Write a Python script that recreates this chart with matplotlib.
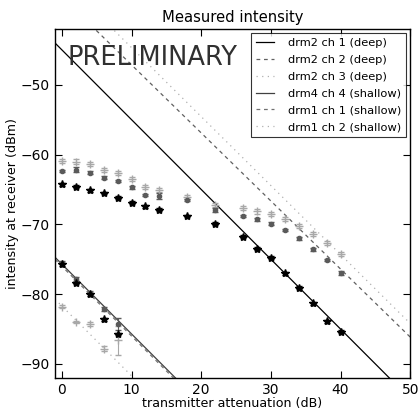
import numpy as np
import matplotlib
matplotlib.use("Agg")
import matplotlib.pyplot as plt

# ---- data ----
x_deep = [0, 2, 4, 6, 8, 10, 12, 14, 18, 22, 26, 28, 30, 32, 34, 36, 38, 40]
drm2_ch1 = [-64.25, -64.6, -65.1, -65.5, -66.2, -66.9, -67.4, -67.9, -68.8, -69.9,
            -71.75, -73.5, -74.8, -77.0, -79.1, -81.3, -83.9, -85.4]
drm2_ch2 = [-62.35, -62.2, -62.6, -63.3, -63.8, -64.7, -65.8, -65.9, -66.5, -67.9,
            -68.8, -69.3, -69.9, -70.8, -72.0, -73.6, -75.1, -77.0]
drm2_ch3 = [-60.9, -61.0, -61.4, -62.2, -62.7, -63.5, -64.6, -65.1, -66.05, -67.2,
            -67.7, -68.15, -68.5, -69.2, -70.2, -71.4, -72.7, -74.3]
drm2_ch1_err = [0.2] * 18
drm2_ch2_err = [0.2, 0.35, 0.2, 0.2, 0.2, 0.2, 0.2, 0.45, 0.2, 0.3,
                0.2, 0.2, 0.2, 0.2, 0.2, 0.2, 0.2, 0.3]
drm2_ch3_err = [0.3] * 18

x_shallow = [0, 2, 4, 6, 8]
drm4_ch4 = [-75.7, -78.4, -80.0, -83.6, -85.7]
drm1_ch1 = [-75.5, -77.8, -79.8, -82.1, -84.3]
drm1_ch2 = [-81.8, -84.0, -84.3, -87.8, -86.6]
drm4_ch4_err = [0.2, 0.2, 0.2, 0.2, 0.2]
drm1_ch1_err = [0.2, 0.3, 0.2, 0.3, 0.9]
drm1_ch2_err = [0.2, 0.2, 0.3, 0.3, 2.1]

# fit lines: (label, slope, intercept)
fit_labels = ["drm2 ch 1 (deep)", "drm2 ch 2 (deep)", "drm2 ch 3 (deep)",
              "drm4 ch 4 (shallow)", "drm1 ch 1 (shallow)", "drm1 ch 2 (shallow)"]
fit_slopes = [-1.0, -0.975, -0.988, -1.0, -1.0, -1.0]
fit_intercepts = [-45.0, -37.4, -34.8, -75.7, -76.0, -81.7]

title = "Measured intensity"
xlabel = "transmitter attenuation (dB)"
ylabel = "intensity at receiver (dBm)"
watermark = "PRELIMINARY"

# ---- plot ----
fig = plt.figure(figsize=(4.19, 4.13), dpi=100)
ax = fig.add_axes([0.131, 0.085, 0.848, 0.845])

line_dashes = [None, (3, 3), (1, 3.5), None, (3, 3), (1, 3.5)]
line_colors = ["#000000", "#606060", "#b0b0b0", "#404040", "#707070", "#b0b0b0"]
xfit = np.array([-1, 50])
for lab, s, b, d, c in zip(fit_labels, fit_slopes, fit_intercepts, line_dashes, line_colors):
    ln, = ax.plot(xfit, s * xfit + b, color=c, lw=0.9, label=lab)
    if d is not None:
        ln.set_dashes(d)

def eb(x, y, e, fmt, color, ms):
    ax.errorbar(x, y, yerr=e, fmt=fmt, color=color, ecolor=color, ms=ms,
                capsize=2, elinewidth=0.8, mew=1.0, mec=color, zorder=3)

eb(x_deep, drm2_ch3, drm2_ch3_err, "+", "#a8a8a8", 6)
eb(x_deep, drm2_ch2, drm2_ch2_err, "o", "#5a5a5a", 3)
eb(x_deep, drm2_ch1, drm2_ch1_err, "*", "#000000", 6)
eb(x_shallow, drm1_ch2, drm1_ch2_err, "+", "#a8a8a8", 6)
eb(x_shallow, drm1_ch1, drm1_ch1_err, "o", "#5a5a5a", 3)
eb(x_shallow, drm4_ch4, drm4_ch4_err, "*", "#000000", 6)

ax.set_xlim(-1, 50)
ax.set_ylim(-92, -42)
ax.set_xticks([0, 10, 20, 30, 40, 50])
ax.set_yticks([-90, -80, -70, -60, -50])
ax.tick_params(direction="in", top=True, right=True, labelsize=10, length=5, width=0.8, pad=4)
for sp in ax.spines.values():
    sp.set_linewidth(1.0)

ax.set_title(title, fontsize=10.6, pad=5)
ax.set_xlabel(xlabel, fontsize=9.1, labelpad=0)
ax.set_ylabel(ylabel, fontsize=9.1, labelpad=1)
ax.text(0.035, 0.955, watermark, transform=ax.transAxes, fontsize=18.5,
        color="#303030", va="top", ha="left")

leg = ax.legend(loc="upper right", fontsize=8.2, frameon=True, fancybox=False,
                handlelength=1.6, handletextpad=1.2, borderpad=0.45,
                labelspacing=0.6, borderaxespad=0.35)
leg.get_frame().set_edgecolor("black")
leg.get_frame().set_linewidth(0.8)

fig.savefig("out.png", dpi=100)
